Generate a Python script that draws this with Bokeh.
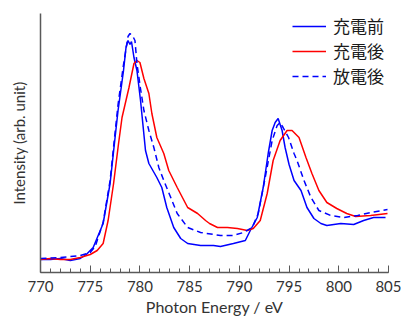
from bokeh.plotting import figure
from bokeh.models import Range1d, FixedTicker, Legend, LegendItem, SingleIntervalTicker
from bokeh.embed import file_html
from bokeh.resources import INLINE

# 充電前 (blue solid)
blue_e = [770, 771, 772, 773, 774, 774.6, 775, 775.3, 776.3, 777.0, 777.5, 777.8, 778.35, 778.6, 778.8, 779.0, 779.15, 779.4, 779.7, 780.06, 780.56, 780.9, 781.7, 782.2, 782.7, 783.4, 784.1, 784.8, 786.1, 787.4, 788.1, 789.4, 790.6, 791.1, 791.8, 792.4, 792.9, 793.3, 793.6, 793.9, 794.3, 794.6, 795.0, 795.5, 796.2, 796.8, 797.5, 798.2, 798.8, 800.2, 801.5, 802.5, 803.5, 804.7]
blue_v = [13, 13, 14, 12, 14, 18, 22, 25, 49, 89, 135, 162, 202, 225, 232, 228, 231, 215, 202, 172, 122, 109, 95, 85, 65, 45, 34, 29, 27, 27, 26, 29, 32, 42, 55, 85, 119, 142, 150, 154, 142, 125, 108, 92, 82, 65, 54, 49, 47, 49, 48, 52, 55, 55]

# 充電後 (red solid)
red_e = [770, 771, 772, 773, 774, 775, 775.7, 776.3, 776.8, 777.35, 777.85, 778.2, 778.9, 779.4, 779.7, 780.0, 780.4, 780.9, 781.2, 781.7, 782.4, 782.9, 783.75, 784.8, 785.8, 786.6, 787.0, 787.8, 788.8, 789.8, 790.8, 791.4, 792.1, 792.8, 793.4, 794.1, 794.8, 795.3, 796.0, 796.7, 797.3, 798.0, 798.8, 799.8, 800.8, 801.7, 803.2, 804.9]
red_v = [13, 14, 13, 13, 15, 18, 22, 29, 52, 89, 129, 155, 185, 209, 212, 210, 194, 179, 159, 135, 119, 102, 85, 65, 59, 52, 49, 45, 45, 44, 42, 44, 52, 79, 112, 132, 142, 142, 135, 115, 99, 82, 70, 64, 59, 56, 57, 59]

# 放電後 (blue dashed)
dash_e = [770, 772, 774, 775, 775.5, 776.3, 777.0, 777.5, 777.8, 778.35, 778.8, 779.0, 779.3, 779.5, 779.7, 780.04, 780.4, 780.9, 781.4, 781.9, 782.4, 783.1, 783.75, 784.8, 786.1, 788.1, 789.4, 790.4, 791.3, 791.9, 792.6, 793.3, 793.8, 794.1, 794.4, 794.95, 795.5, 795.8, 796.5, 797.2, 798.0, 799.2, 800.5, 801.9, 803.2, 804.9]
dash_v = [14, 15, 17, 20, 26, 50, 92, 140, 168, 208, 236, 239, 236, 232, 209, 185, 162, 142, 125, 105, 92, 75, 59, 45, 40, 37, 37, 40, 45, 59, 95, 132, 147, 150, 145, 135, 119, 112, 92, 75, 62, 57, 55, 57, 60, 63]

labels = ["充電前", "充電後", "放電後"]

FONT = "Lato"
p = figure(width=401, height=320, output_backend="svg", toolbar_location=None,
           x_range=Range1d(770, 805), y_range=Range1d(0, 259),
           min_border_left=40, min_border_right=13, min_border_top=13, min_border_bottom=48)
p.outline_line_color = None
p.grid.grid_line_color = None
p.background_fill_color = None

r1 = p.line(blue_e, blue_v, line_color="#0000FF", line_width=1.5)
r2 = p.line(red_e, red_v, line_color="#FF0000", line_width=1.5)
r3 = p.line(dash_e, dash_v, line_color="#0000FF", line_width=1.5, line_dash="6 4")

legend = Legend(items=[LegendItem(label=labels[0], renderers=[r1]),
                       LegendItem(label=labels[1], renderers=[r2]),
                       LegendItem(label=labels[2], renderers=[r3])],
                location="top_right", border_line_color=None, background_fill_alpha=0,
                label_text_font="Noto Sans CJK JP", label_text_font_size="17px",
                label_text_color="#1a1a1a", glyph_width=34, glyph_height=20,
                spacing=-5, padding=3, margin=0, label_standoff=7,
                label_height=20, label_width=55)
p.add_layout(legend)

xa = p.xaxis[0]
xa.ticker = SingleIntervalTicker(interval=5, num_minor_ticks=5)
xa.major_tick_in = 7
xa.major_tick_out = 0
xa.minor_tick_in = 4
xa.minor_tick_out = 0
xa.axis_line_color = "#595959"
xa.major_tick_line_color = "#595959"
xa.minor_tick_line_color = "#595959"
xa.axis_line_width = 1.5
xa.major_label_text_font = FONT
xa.major_label_text_font_size = "15px"
xa.major_label_text_color = "#333333"
xa.major_label_standoff = 8
xa.axis_label = "Photon Energy / eV"
xa.axis_label_text_font = FONT
xa.axis_label_text_font_size = "16px"
xa.axis_label_text_font_style = "normal"
xa.axis_label_text_color = "#333333"
xa.axis_label_standoff = 2

ya = p.yaxis[0]
ya.ticker = FixedTicker(ticks=[])
ya.major_tick_line_color = None
ya.minor_tick_line_color = None
ya.major_label_text_font_size = "0px"
ya.axis_line_color = "#595959"
ya.axis_line_width = 1.5
ya.axis_label = "Intensity (arb. unit)"
ya.axis_label_text_font = FONT
ya.axis_label_text_font_size = "15px"
ya.axis_label_text_font_style = "normal"
ya.axis_label_text_color = "#333333"
ya.axis_label_standoff = 13

open("out.html", "w").write(file_html(p, INLINE))
